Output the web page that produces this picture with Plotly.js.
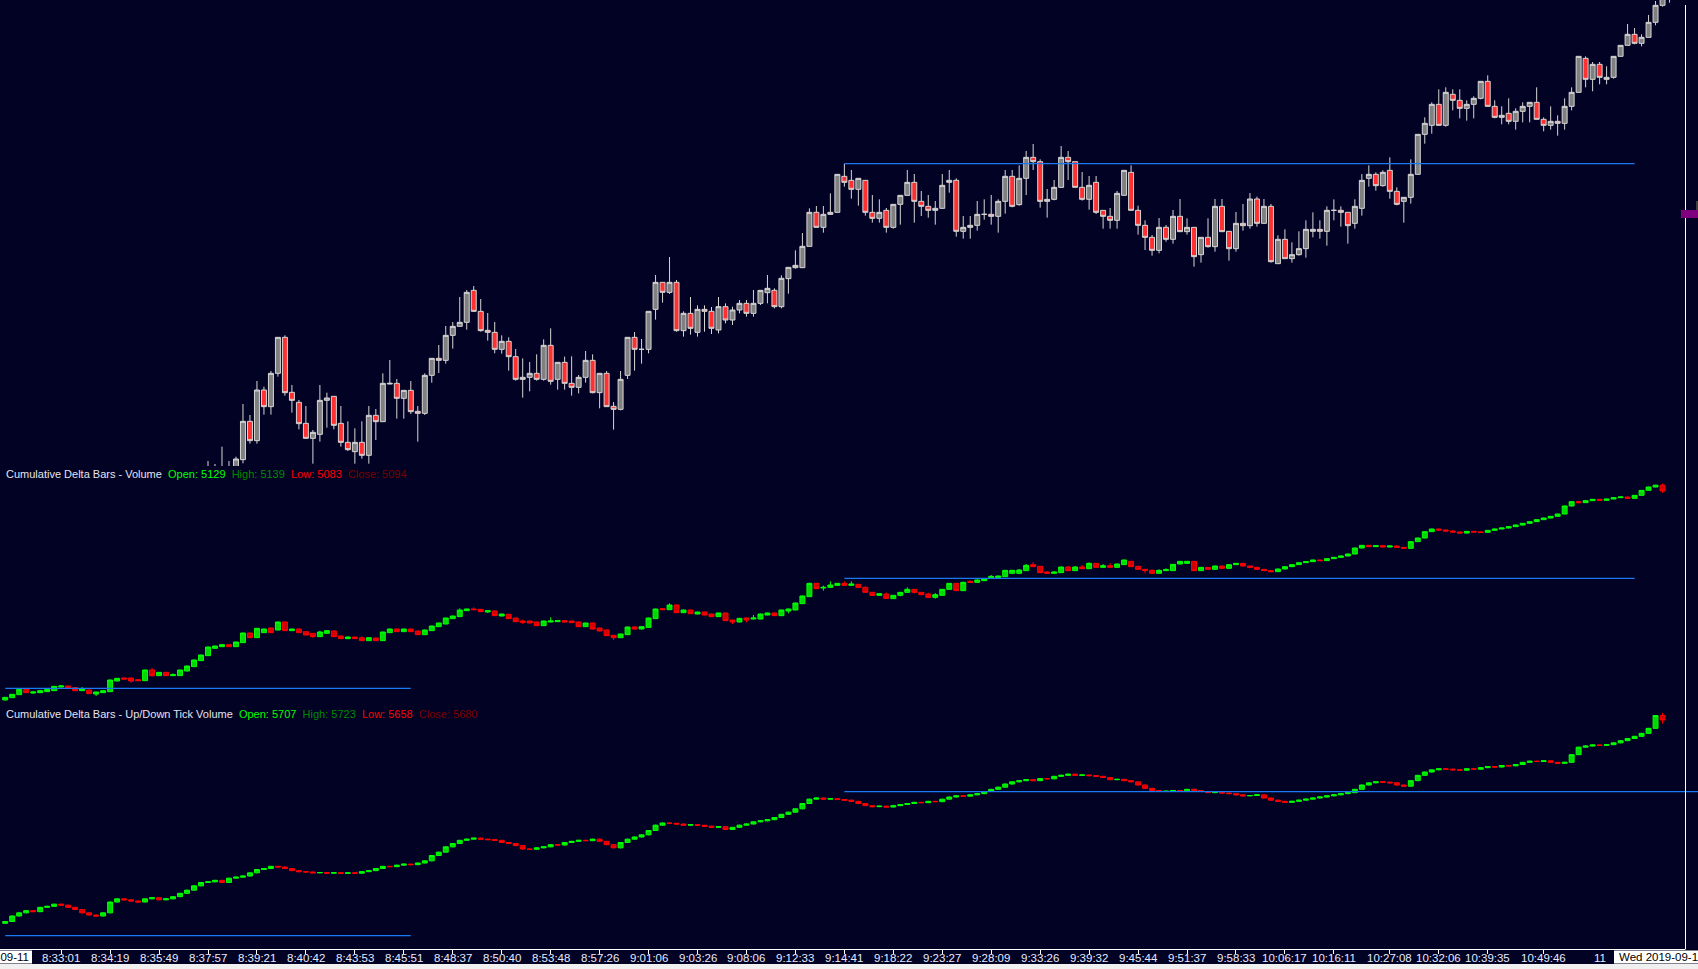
<!DOCTYPE html>
<html><head><meta charset="utf-8">
<script src="https://cdn.plot.ly/plotly-3.0.1.min.js"></script>
<style>html,body{margin:0;padding:0;background:#020224;overflow:hidden}#chart{width:1698px;height:969px}</style>
</head><body><div id="chart"></div>
<script>
// ---- price panel (bar index starts at mainStart) ----
const mainStart = 29;
const mainOpen = [1590,1595,1600,1595,1595,1621,1736,1678,1830,1780,1880,1988,1823,1793,1730,1685,1697,1799,1811,1730,1673,1645,1673,1634,1754,1735,1848,1850,1805,1829,1766,1760,1874,1925,1919,1994,2021,2033,2129,2066,2009,2003,1952,1976,1930,1862,1868,1880,1862,1964,1862,1913,1850,1838,1868,1919,1822,1880,1781,1772,1874,1988,1952,1952,2072,2153,2123,2153,2008,2060,2003,2072,2066,2010,2080,2040,2070,2090,2060,2090,2122,2129,2080,2164,2197,2197,2261,2363,2318,2357,2363,2471,2459,2432,2459,2363,2345,2369,2318,2387,2414,2453,2396,2381,2369,2375,2453,2459,2306,2318,2324,2357,2357,2351,2396,2471,2386,2465,2528,2515,2396,2402,2438,2528,2515,2438,2402,2453,2369,2351,2339,2414,2483,2369,2324,2288,2249,2318,2282,2351,2305,2318,2236,2288,2260,2381,2306,2254,2330,2323,2403,2330,2381,2209,2282,2224,2236,2254,2306,2312,2306,2369,2369,2363,2330,2375,2465,2477,2443,2489,2426,2396,2408,2477,2597,2624,2687,2624,2717,2699,2675,2687,2705,2756,2681,2648,2660,2636,2666,2681,2693,2642,2624,2636,2630,2681,2723,2825,2762,2807,2762,2768,2831,2864,2897,2870,2888,2933,2984,3015];
const mainHigh = [1617,1608,1660,1617,1630,1788,1755,1857,1840,1887,1988,1994,1845,1800,1782,1710,1845,1822,1811,1782,1736,1715,1736,1782,1773,1880,1920,1863,1829,1857,1782,1880,1925,1965,2022,2034,2109,2130,2142,2103,2061,2034,1994,1988,1953,1925,1914,1937,1982,2015,1913,1930,1931,1875,1947,1937,1880,1887,1794,1887,1988,2004,1983,2066,2175,2153,2229,2160,2066,2109,2084,2084,2079,2109,2090,2080,2100,2100,2130,2130,2175,2135,2174,2198,2249,2301,2375,2382,2382,2420,2477,2509,2490,2465,2459,2415,2402,2376,2387,2414,2490,2478,2427,2415,2397,2478,2490,2465,2352,2352,2397,2402,2415,2402,2490,2490,2504,2547,2568,2522,2433,2460,2562,2547,2515,2484,2472,2472,2369,2376,2427,2489,2504,2383,2339,2295,2346,2325,2370,2403,2345,2318,2288,2345,2403,2403,2306,2364,2388,2421,2410,2403,2388,2294,2312,2273,2306,2339,2363,2339,2381,2402,2381,2363,2402,2478,2504,2483,2489,2528,2438,2408,2522,2597,2648,2693,2732,2738,2732,2732,2699,2711,2756,2774,2699,2681,2705,2675,2693,2693,2738,2648,2681,2654,2705,2738,2831,2831,2814,2814,2801,2831,2864,2928,2916,2897,2955,2997,3020,3040];
const mainLow = [1570,1585,1580,1585,1585,1610,1669,1669,1756,1756,1870,1813,1762,1712,1685,1609,1675,1717,1712,1660,1647,1609,1624,1609,1680,1735,1847,1744,1744,1758,1675,1755,1852,1881,1909,1954,2021,2011,2064,2005,1978,1940,1939,1888,1858,1807,1826,1858,1858,1846,1831,1831,1813,1820,1852,1820,1775,1780,1711,1769,1863,1888,1909,1940,2041,2092,2118,2005,1990,1996,1990,2005,1998,2000,2030,2025,2060,2050,2050,2085,2090,2075,2075,2119,2194,2197,2261,2318,2302,2355,2363,2440,2404,2383,2353,2332,2332,2302,2314,2326,2414,2332,2352,2347,2326,2375,2422,2290,2284,2284,2308,2341,2326,2302,2359,2378,2383,2415,2490,2377,2347,2399,2438,2460,2438,2398,2371,2358,2314,2314,2314,2414,2369,2296,2250,2233,2240,2275,2269,2305,2296,2200,2212,2257,2245,2305,2218,2245,2308,2314,2320,2330,2212,2209,2224,2212,2233,2227,2288,2284,2263,2339,2320,2269,2314,2353,2440,2428,2440,2404,2384,2332,2389,2477,2569,2599,2624,2620,2669,2645,2638,2645,2702,2681,2645,2627,2627,2611,2633,2633,2642,2606,2611,2593,2611,2669,2723,2738,2726,2747,2747,2764,2831,2864,2867,2861,2888,2924,2980,2992];
const mainClose = [1580,1600,1590,1600,1623,1736,1678,1830,1780,1880,1988,1822,1799,1729,1685,1703,1799,1806,1724,1673,1651,1673,1634,1754,1735,1850,1850,1805,1829,1765,1760,1874,1925,1919,1994,2021,2033,2123,2066,2008,2003,1952,1976,1930,1862,1868,1880,1862,1964,1856,1913,1850,1838,1868,1919,1822,1880,1780,1772,1862,1988,1952,1952,2066,2153,2123,2153,2008,2060,2015,2072,2066,2015,2080,2040,2070,2090,2060,2090,2129,2135,2080,2165,2198,2204,2261,2363,2318,2357,2363,2477,2453,2432,2465,2363,2345,2363,2318,2387,2414,2453,2396,2381,2369,2375,2444,2459,2306,2318,2324,2357,2357,2351,2396,2471,2381,2465,2528,2515,2396,2402,2438,2528,2515,2438,2402,2444,2363,2351,2339,2420,2489,2369,2324,2288,2249,2318,2282,2351,2305,2318,2230,2288,2260,2381,2305,2254,2330,2323,2403,2330,2381,2215,2282,2224,2236,2254,2312,2312,2306,2369,2369,2363,2323,2381,2459,2477,2443,2483,2426,2387,2408,2477,2597,2630,2687,2624,2723,2699,2675,2687,2705,2756,2681,2648,2654,2636,2666,2681,2693,2642,2624,2636,2630,2681,2723,2831,2762,2807,2768,2768,2831,2864,2897,2870,2888,2933,2984,3010,3030];
const mainLevel = {from:120, to:233, value:2509};

// ---- Cumulative Delta Bars - Volume (bar index from 0) ----
const d1Open = [3840,3854,3872,3904,3882,3884,3890,3896,3918,3924,3914,3896,3900,3876,3884,3890,3954,3972,3972,3962,3956,4020,3986,4006,3986,3986,4014,4040,4076,4106,4150,4160,4172,4160,4184,4242,4214,4244,4272,4260,4308,4256,4266,4250,4240,4220,4240,4254,4224,4208,4218,4214,4196,4212,4196,4244,4266,4250,4266,4254,4232,4256,4280,4296,4328,4340,4376,4386,4384,4368,4374,4344,4354,4332,4314,4314,4308,4286,4308,4310,4316,4314,4308,4280,4302,4272,4260,4228,4214,4232,4278,4266,4276,4328,4388,4382,4410,4364,4380,4356,4368,4356,4340,4362,4320,4308,4332,4326,4326,4350,4362,4346,4374,4380,4418,4460,4540,4512,4516,4528,4540,4528,4534,4516,4486,4468,4476,4448,4468,4486,4504,4486,4476,4456,4468,4504,4540,4496,4552,4546,4556,4574,4574,4580,4600,4600,4616,4652,4642,4608,4600,4604,4638,4616,4638,4628,4660,4636,4646,4636,4652,4672,4642,4624,4618,4600,4616,4616,4656,4660,4672,
  4616,4636,4624,4644,4630,4652,4660,4644,4636,4624,4616,4610,4626,4640,4652,4664,4670,4680,4676,4688,4696,4704,4716,4752,4768,4760,4766,4758,4764,4756,4750,4790,4812,4850,4866,4860,4854,4848,4842,4852,4848,4846,4858,4866,4872,4880,4890,4900,4910,4922,4932,4942,4956,5004,5030,5024,5036,5044,5038,5046,5054,5058,5050,5068,5098,5118,5129];
const d1High = [3858,3876,3906,3906,3890,3898,3906,3924,3928,3926,3916,3918,3902,3890,3898,3962,3972,3976,3974,3964,4022,4032,4008,4008,4000,4022,4046,4082,4112,4160,4166,4174,4174,4190,4244,4244,4272,4268,4274,4310,4310,4268,4268,4252,4242,4256,4258,4256,4226,4220,4220,4222,4216,4214,4250,4268,4268,4268,4268,4256,4262,4286,4304,4334,4346,4390,4388,4396,4386,4380,4376,4358,4356,4334,4322,4316,4310,4316,4336,4318,4318,4316,4310,4304,4304,4274,4262,4230,4238,4280,4280,4282,4334,4388,4390,4420,4412,4382,4382,4370,4370,4358,4364,4364,4322,4332,4334,4350,4358,4364,4364,4382,4388,4424,4468,4544,4542,4526,4552,4542,4552,4552,4536,4522,4488,4480,4484,4470,4488,4516,4506,4488,4484,4482,4506,4542,4542,4550,4556,4564,4568,4590,4586,4620,4620,4626,4656,4668,4644,4614,4614,4640,4644,4644,4650,4666,4662,4656,4662,4658,4682,4674,4646,4626,4624,4624,4630,4656,4674,4674,4674,
  4638,4638,4646,4646,4654,4662,4662,4646,4638,4626,4618,4628,4642,4654,4666,4672,4682,4682,4690,4698,4706,4718,4754,4770,4770,4768,4768,4766,4766,4758,4792,4814,4852,4868,4868,4862,4856,4850,4854,4854,4850,4860,4868,4874,4882,4892,4902,4912,4924,4934,4944,4958,5006,5032,5032,5038,5046,5046,5048,5056,5060,5060,5070,5100,5120,5131,5139];
const d1Low = [3838,3852,3870,3882,3876,3882,3888,3894,3914,3910,3894,3894,3876,3864,3882,3888,3952,3964,3944,3954,3954,3980,3984,3984,3984,3984,4012,4038,4074,4104,4146,4158,4158,4158,4182,4212,4212,4242,4242,4258,4254,4254,4242,4228,4214,4218,4238,4218,4206,4206,4206,4194,4194,4194,4194,4242,4248,4248,4248,4230,4230,4254,4278,4294,4326,4338,4374,4380,4368,4364,4344,4342,4326,4308,4296,4300,4284,4284,4306,4308,4306,4302,4278,4278,4264,4252,4224,4200,4212,4230,4264,4264,4274,4326,4380,4380,4362,4362,4356,4354,4348,4338,4338,4314,4296,4306,4306,4324,4324,4348,4344,4344,4360,4378,4416,4458,4506,4496,4514,4526,4526,4526,4514,4484,4466,4466,4448,4446,4462,4484,4480,4470,4454,4448,4466,4502,4494,4494,4544,4544,4554,4570,4572,4578,4598,4598,4614,4638,4602,4598,4598,4602,4614,4614,4626,4626,4634,4634,4634,4634,4650,4638,4622,4600,4598,4598,4614,4614,4654,4658,4614,
  4614,4622,4622,4628,4628,4650,4642,4634,4622,4614,4608,4608,4624,4638,4650,4662,4668,4674,4674,4686,4694,4702,4714,4750,4758,4758,4756,4756,4754,4748,4748,4788,4810,4848,4858,4852,4846,4840,4840,4846,4844,4844,4856,4864,4870,4878,4888,4898,4908,4920,4930,4940,4954,5002,5022,5022,5034,5036,5036,5044,5052,5048,5048,5066,5096,5116,5083];
const d1Close = [3856,3874,3904,3884,3888,3896,3904,3922,3924,3912,3896,3906,3878,3888,3896,3960,3970,3966,3954,3956,4020,3986,4006,3986,3992,4020,4044,4080,4110,4158,4164,4172,4160,4188,4242,4214,4270,4266,4244,4308,4256,4266,4244,4230,4220,4248,4256,4220,4208,4218,4208,4196,4214,4196,4248,4266,4250,4266,4250,4232,4260,4284,4302,4332,4344,4380,4386,4382,4370,4376,4346,4356,4328,4310,4306,4302,4286,4314,4314,4316,4308,4304,4280,4302,4266,4254,4226,4214,4236,4278,4266,4280,4332,4386,4382,4410,4364,4380,4358,4368,4350,4340,4362,4316,4308,4330,4320,4332,4356,4362,4346,4380,4386,4422,4464,4540,4508,4516,4530,4540,4528,4536,4516,4486,4468,4478,4450,4468,4486,4504,4486,4472,4456,4472,4504,4540,4496,4546,4546,4560,4566,4582,4584,4618,4618,4620,4648,4640,4604,4600,4608,4638,4616,4638,4628,4660,4636,4646,4636,4656,4680,4640,4624,4616,4600,4618,4622,4654,4672,4672,4616,
  4636,4624,4644,4630,4652,4660,4644,4636,4624,4616,4610,4626,4640,4652,4664,4670,4680,4676,4688,4696,4704,4716,4752,4768,4760,4766,4758,4764,4756,4750,4790,4812,4850,4866,4860,4854,4848,4842,4852,4848,4846,4858,4866,4872,4880,4890,4900,4910,4922,4932,4942,4956,5004,5030,5024,5036,5044,5038,5046,5054,5058,5050,5068,5098,5118,5129,5094];
const d1Info = [5129, 5139, 5083, 5094];
const d1Levels = [{from:0, to:58, value:3910}, {from:120, to:233, value:4570}];

// ---- Cumulative Delta Bars - Up/Down Tick Volume (bar index from 0) ----
const d2Open = [4460,4471,4504,4523,4536,4530,4556,4562,4575,4569,4556,4543,4523,4510,4504,4523,4588,4607,4601,4594,4588,4607,4614,4601,4607,4620,4640,4659,4685,4705,4709,4718,4705,4731,4737,4744,4763,4783,4789,4802,4798,4789,4776,4770,4768,4763,4765,4761,4764,4760,4763,4761,4770,4776,4789,4802,4800,4809,4815,4812,4822,4835,4867,4887,4919,4939,4958,4965,4971,4965,4962,4958,4945,4939,4926,4906,4904,4913,4919,4932,4930,4945,4952,4958,4956,4965,4952,4932,4913,4945,4965,4978,4991,5017,5049,5062,5060,5056,5049,5052,5048,5043,5036,5040,5023,5036,5049,5056,5069,5075,5082,5095,5114,5127,5147,5179,5205,5212,5205,5208,5203,5199,5192,5179,5166,5160,5163,5158,5166,5173,5179,5186,5184,5192,5190,5205,5218,5225,5223,5231,5238,5251,5264,5277,5296,5309,5316,5322,5316,5329,5327,5342,5348,5355,5348,5350,5346,5342,5335,5322,5324,5316,5309,5290,5270,5257,5251,5253,5257,5255,5264,5257,5251,5244,5246,5242,5238,5231,5225,5227,5231,5212,5199,5192,5186,5192,5199,5205,5212,5218,5225,5231,5238,5244,5264,5290,5303,5309,5307,5303,5290,5283,5316,5348,5368,5381,5387,5385,5381,5379,5387,5385,5394,5400,5398,5407,5405,5413,5426,5433,5431,5435,5426,5420,5426,5472,5517,5524,5530,5528,5532,5543,5556,5569,5582,5600,5630,5707];
const d2High = [4474,4507,4526,4539,4539,4559,4565,4578,4578,4572,4559,4546,4526,4513,4526,4591,4610,4610,4604,4597,4610,4617,4617,4610,4623,4643,4662,4688,4708,4712,4721,4721,4734,4740,4747,4766,4786,4792,4805,4805,4801,4792,4779,4773,4771,4768,4768,4767,4767,4766,4766,4773,4779,4792,4805,4805,4812,4818,4818,4825,4838,4870,4890,4922,4942,4961,4968,4974,4974,4968,4965,4961,4948,4942,4929,4909,4916,4922,4935,4935,4948,4955,4961,4961,4968,4968,4955,4935,4948,4968,4981,4994,5020,5052,5065,5065,5063,5059,5055,5055,5051,5046,5043,5043,5039,5052,5059,5072,5078,5085,5098,5117,5130,5150,5182,5208,5215,5215,5211,5211,5206,5202,5195,5182,5169,5166,5166,5169,5176,5182,5189,5189,5195,5195,5208,5221,5228,5228,5234,5241,5254,5267,5280,5299,5312,5319,5325,5325,5332,5332,5345,5351,5358,5358,5353,5353,5349,5345,5338,5327,5327,5319,5312,5293,5273,5260,5256,5260,5260,5267,5267,5260,5254,5249,5249,5245,5241,5234,5230,5234,5234,5215,5202,5195,5195,5202,5208,5215,5221,5228,5234,5241,5247,5267,5293,5306,5312,5312,5310,5306,5293,5319,5351,5371,5384,5390,5390,5388,5384,5390,5390,5397,5403,5403,5410,5410,5416,5429,5436,5436,5438,5438,5429,5429,5475,5520,5527,5533,5533,5535,5546,5559,5572,5585,5603,5633,5710,5723];
const d2Low = [4457,4468,4501,4520,4527,4527,4553,4559,4566,4553,4540,4520,4507,4501,4501,4520,4585,4598,4591,4585,4585,4604,4598,4598,4604,4617,4637,4656,4682,4702,4706,4702,4702,4728,4734,4741,4760,4780,4786,4795,4786,4773,4767,4765,4760,4760,4758,4758,4757,4757,4758,4758,4767,4773,4786,4797,4797,4806,4809,4809,4819,4832,4864,4884,4916,4936,4955,4962,4962,4959,4955,4942,4936,4923,4903,4901,4901,4910,4916,4927,4927,4942,4949,4953,4953,4949,4929,4910,4910,4942,4962,4975,4988,5014,5046,5057,5053,5046,5046,5045,5040,5033,5033,5020,5020,5033,5046,5053,5066,5072,5079,5092,5111,5124,5144,5176,5202,5202,5202,5200,5196,5189,5176,5163,5157,5157,5155,5155,5163,5170,5176,5181,5181,5187,5187,5202,5215,5220,5220,5228,5235,5248,5261,5274,5293,5306,5313,5313,5313,5324,5324,5339,5345,5345,5345,5343,5339,5332,5319,5319,5313,5306,5287,5267,5254,5248,5248,5250,5252,5252,5254,5248,5241,5241,5239,5235,5228,5222,5222,5224,5209,5196,5189,5183,5183,5189,5196,5202,5209,5215,5222,5228,5235,5241,5261,5287,5300,5304,5300,5287,5280,5280,5313,5345,5365,5378,5382,5378,5376,5376,5382,5382,5391,5395,5395,5402,5402,5410,5423,5428,5428,5423,5417,5417,5423,5469,5514,5521,5525,5525,5529,5540,5553,5566,5579,5597,5627,5658];
const d2Close = [4471,4504,4523,4536,4530,4556,4562,4575,4569,4556,4543,4523,4510,4504,4523,4588,4607,4601,4594,4588,4607,4614,4601,4607,4620,4640,4659,4685,4705,4709,4718,4705,4731,4737,4744,4763,4783,4789,4802,4798,4789,4776,4770,4768,4763,4765,4761,4764,4760,4763,4761,4770,4776,4789,4802,4800,4809,4815,4812,4822,4835,4867,4887,4919,4939,4958,4965,4971,4965,4962,4958,4945,4939,4926,4906,4904,4913,4919,4932,4930,4945,4952,4958,4956,4965,4952,4932,4913,4945,4965,4978,4991,5017,5049,5062,5060,5056,5049,5052,5048,5043,5036,5040,5023,5036,5049,5056,5069,5075,5082,5095,5114,5127,5147,5179,5205,5212,5205,5208,5203,5199,5192,5179,5166,5160,5163,5158,5166,5173,5179,5186,5184,5192,5190,5205,5218,5225,5223,5231,5238,5251,5264,5277,5296,5309,5316,5322,5316,5329,5327,5342,5348,5355,5348,5350,5346,5342,5335,5322,5324,5316,5309,5290,5270,5257,5251,5253,5257,5255,5264,5257,5251,5244,5246,5242,5238,5231,5225,5227,5231,5212,5199,5192,5186,5192,5199,5205,5212,5218,5225,5231,5238,5244,5264,5290,5303,5309,5307,5303,5290,5283,5316,5348,5368,5381,5387,5385,5381,5379,5387,5385,5394,5400,5398,5407,5405,5413,5426,5433,5431,5435,5426,5420,5426,5472,5517,5524,5530,5528,5532,5543,5556,5569,5582,5600,5630,5707,5680];
const d2Info = [5707, 5723, 5658, 5680];
const d2Levels = [{from:0, to:58, value:4386}, {from:120, to:243, value:5250}];

// ---- time axis ----
const timeLabels = ['8:33:01','8:34:19','8:35:49','8:37:57','8:39:21','8:40:42','8:43:53','8:45:51','8:48:37','8:50:40','8:53:48','8:57:26','9:01:06','9:03:26','9:08:06','9:12:33','9:14:41','9:18:22','9:23:27','9:28:09','9:33:26','9:39:32','9:45:44','9:51:37','9:58:33','10:06:17','10:16:11','10:27:08','10:32:06','10:39:35','10:49:46','11'];
const timeBars = [8,15,22,29,36,43,50,57,64,71,78,85,92,99,106,113,120,127,134,141,148,155,162,169,176,183,190,198,205,212,220,228];
const dateLeft = '2019-09-11';
const dateRight = 'Wed 2019-09-11';

const W = 1698, H = 969, PB = 949;
const py = p => 1 - p / PB;
const px = p => p / W;
const BG = '#020224';
const LEVEL = '#1a78f0';

function xs(start, n){ const a=[]; for(let k=0;k<n;k++) a.push(start+k); return a; }

const traces = [];
traces.push({type:'candlestick', x: xs(mainStart, mainOpen.length), open: mainOpen, high: mainHigh, low: mainLow, close: mainClose,
  xaxis:'x', yaxis:'y', whiskerwidth:0, hoverinfo:'skip',
  increasing:{line:{color:'#d6d6d6', width:1}, fillcolor:'#808080'},
  decreasing:{line:{color:'#d6d6d6', width:1}, fillcolor:'#ff3030'}});
traces.push({type:'scatter', mode:'lines', x:[mainLevel.from, mainLevel.to], y:[mainLevel.value, mainLevel.value], xaxis:'x', yaxis:'y', line:{color:LEVEL, width:1.3}, hoverinfo:'skip'});

function deltaTrace(o,h,l,c,ya){
  return {type:'candlestick', x: xs(0, o.length), open:o, high:h, low:l, close:c, xaxis:'x', yaxis:ya, whiskerwidth:0, hoverinfo:'skip',
    increasing:{line:{color:'#00ff00', width:1}, fillcolor:'#00d800'},
    decreasing:{line:{color:'#ff0000', width:1}, fillcolor:'#d00000'}};
}
traces.push(deltaTrace(d1Open,d1High,d1Low,d1Close,'y2'));
d1Levels.forEach(L => traces.push({type:'scatter', mode:'lines', x:[L.from,L.to], y:[L.value,L.value], xaxis:'x', yaxis:'y2', line:{color:LEVEL, width:1.3}, hoverinfo:'skip'}));
traces.push(deltaTrace(d2Open,d2High,d2Low,d2Close,'y3'));
d2Levels.forEach(L => traces.push({type:'scatter', mode:'lines', x:[L.from,L.to], y:[L.value,L.value], xaxis:'x', yaxis:'y3', line:{color:LEVEL, width:1.3}, hoverinfo:'skip'}));

function infoText(name, v){
  const s = '\u00a0';
  return name + s + s + '<span style="color:#00ff00">Open: ' + v[0] + '</span>' + s + s +
    '<span style="color:#008a00">High: ' + v[1] + '</span>' + s + s +
    '<span style="color:#ff0000">Low: ' + v[2] + '</span>' + s + s +
    '<span style="color:#7a0000">Close: ' + v[3] + '</span>';
}
const labelFont = {family:'Liberation Sans, Arial, sans-serif', size:11, color:'#e4e4ee'};
const axisFam = 'Liberation Sans, Arial, sans-serif';
const axisFont = {family:axisFam, size:11.5, color:'#e6eaff'};

const annotations = [
  {xref:'paper', yref:'paper', x:px(4), y:py(473.5), xanchor:'left', yanchor:'middle', showarrow:false, text: infoText('Cumulative Delta Bars - Volume', d1Info), font: labelFont},
  {xref:'paper', yref:'paper', x:px(4), y:py(713.5), xanchor:'left', yanchor:'middle', showarrow:false, text: infoText('Cumulative Delta Bars - Up/Down Tick Volume', d2Info), font: labelFont}
];
timeLabels.forEach((t, k) => annotations.push({xref:'x', yref:'paper', x: timeBars[k], y: py(957.5), xanchor:'center', yanchor:'middle', showarrow:false, text:t, font: axisFont}));
annotations.push({xref:'paper', yref:'paper', x:px(31), y:py(957), xanchor:'right', yanchor:'middle', showarrow:false, text: dateLeft, font:{family:axisFam, size:11.5, color:'#000000'}});
annotations.push({xref:'paper', yref:'paper', x:px(1617), y:py(957), xanchor:'left', yanchor:'middle', showarrow:false, text: dateRight, font:{family:axisFam, size:11.5, color:'#000000'}});

const shapes = [
  {type:'rect', xref:'paper', yref:'paper', x0:0, x1:1, y0:py(969), y1:py(964), fillcolor:'#f0f0f0', line:{width:0}},
  {type:'rect', xref:'paper', yref:'paper', x0:px(0), x1:px(32), y0:py(963.5), y1:py(950.5), fillcolor:'#ffffff', line:{width:0}},
  {type:'rect', xref:'paper', yref:'paper', x0:px(1614), x1:px(1698), y0:py(963.5), y1:py(950.5), fillcolor:'#ffffff', line:{width:0}},
  {type:'line', xref:'paper', yref:'paper', x0:0, x1:px(1685), y0:py(949.5), y1:py(949.5), line:{color:'#ffffff', width:1}},
  {type:'line', xref:'paper', yref:'paper', x0:px(1685.5), x1:px(1685.5), y0:py(949.5), y1:py(5), line:{color:'#ffffff', width:1}},
  {type:'rect', xref:'paper', yref:'paper', x0:px(1681), x1:1, y0:py(218), y1:py(210), fillcolor:'#800080', line:{width:0}},
  {type:'rect', xref:'paper', yref:'paper', x0:px(1696), x1:1, y0:py(210), y1:py(201), fillcolor:'#404040', line:{width:0}}
];

const layout = {
  width: W, height: H, margin:{l:0, r:0, t:0, b:H-PB, pad:0},
  paper_bgcolor: BG, plot_bgcolor: BG, showlegend:false, hovermode:false,
  boxgap:0.29, boxgroupgap:0,
  xaxis:{range:[-0.744, 242.07], anchor:'y3', showgrid:false, zeroline:false, showline:false,
    tickmode:'array', tickvals: timeBars.slice(0, -1), ticks:'outside', ticklen:4, tickcolor:'#ffffff', tickwidth:1,
    showticklabels:false, rangeslider:{visible:false}, fixedrange:true},
  yaxis:{domain:[py(466), 1], range:[1602, 3000], visible:false, fixedrange:true},
  yaxis2:{domain:[py(706), py(466)], range:[3804, 5244], visible:false, fixedrange:true},
  yaxis3:{domain:[0, py(706)], range:[4306, 5764], visible:false, fixedrange:true},
  annotations, shapes
};
Plotly.newPlot('chart', traces, layout, {displayModeBar:false, staticPlot:true});
</script></body></html>
